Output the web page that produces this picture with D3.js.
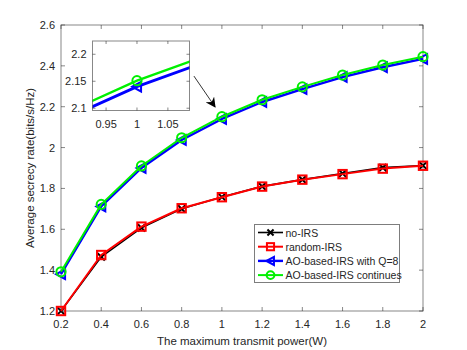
<!DOCTYPE html>
<html>
<head>
<meta charset="utf-8">
<script src="https://cdn.jsdelivr.net/npm/d3@7"></script>
<style>
  body { margin: 0; background: #fff; }
  svg { font-family: "Liberation Sans", Arial, sans-serif; }
</style>
</head>
<body>
<div id="chart"></div>
<script>
// data
const power = [0.2, 0.4, 0.6, 0.8, 1.0, 1.2, 1.4, 1.6, 1.8, 2.0];
const noIRS = [1.2, 1.465, 1.607, 1.70, 1.758, 1.810, 1.843, 1.873, 1.902, 1.912];
const randomIRS = [1.2, 1.474, 1.613, 1.703, 1.757, 1.809, 1.843, 1.870, 1.897, 1.911];
const aoQ8 = [1.38, 1.712, 1.900, 2.037, 2.140, 2.223, 2.286, 2.345, 2.393, 2.434];
const aoCont = [1.392, 1.722, 1.910, 2.048, 2.151, 2.234, 2.297, 2.355, 2.404, 2.445];

const xTicks = [0.2, 0.4, 0.6, 0.8, 1, 1.2, 1.4, 1.6, 1.8, 2];
const yTicks = [1.2, 1.4, 1.6, 1.8, 2, 2.2, 2.4, 2.6];
const insetXTicks = [0.95, 1, 1.05];
const insetYTicks = [2.1, 2.15, 2.2];

const legendNames = ["no-IRS", "random-IRS", "AO-based-IRS with Q=8", "AO-based-IRS continues"];
// arrow annotation in data units: [from, to]
const arrowPts = [[0.861, 2.35], [0.966, 2.199]];

const series = [
  { name: legendNames[0], values: noIRS, color: "#000000", marker: "x", lw: 1.6 },
  { name: legendNames[1], values: randomIRS, color: "#ff0000", marker: "square", lw: 2 },
  { name: legendNames[2], values: aoQ8, color: "#0000ff", marker: "tri", lw: 2.4 },
  { name: legendNames[3], values: aoCont, color: "#00f000", marker: "circle", lw: 2 },
];

const width = 467, height = 350;
const svg = d3.select("#chart").append("svg")
  .attr("width", width).attr("height", height);

const axisColor = "#262626";
const textColor = "#262626";

function drawMarker(g, type, color, x, y, s) {
  if (type === "circle") {
    g.append("circle").attr("cx", x).attr("cy", y).attr("r", s)
      .attr("fill", "none").attr("stroke", color).attr("stroke-width", 2);
  } else if (type === "square") {
    g.append("rect").attr("x", x - s).attr("y", y - s)
      .attr("width", 2 * s).attr("height", 2 * s)
      .attr("fill", "none").attr("stroke", color).attr("stroke-width", 2);
  } else if (type === "tri") {
    g.append("path")
      .attr("d", `M${x - s},${y} L${x + s * 0.85},${y - s} L${x + s * 0.85},${y + s} Z`)
      .attr("fill", "none").attr("stroke", color).attr("stroke-width", 2);
  } else if (type === "x") {
    g.append("path")
      .attr("d", `M${x - s},${y - s} L${x + s},${y + s} M${x - s},${y + s} L${x + s},${y - s}`)
      .attr("stroke", color).attr("stroke-width", 2);
  }
}

function markerSize(type) {
  return type === "circle" ? 4.6 : type === "square" ? 4.2 : type === "tri" ? 4.8 : 3.6;
}

// box with ticks on all sides, matlab style
function drawFrame(g, x, y, xt, yt, fmtX, fmtY, tickLen) {
  const [x0, x1] = x.range();
  const [y0, y1] = y.range();
  g.append("rect").attr("x", x0).attr("y", y1)
    .attr("width", x1 - x0).attr("height", y0 - y1)
    .attr("fill", "none").attr("stroke", axisColor).attr("stroke-opacity", 0.55)
    .attr("stroke-width", 1);
  xt.forEach((t) => {
    const px = x(t);
    g.append("line").attr("x1", px).attr("x2", px).attr("y1", y0).attr("y2", y0 - tickLen)
      .attr("stroke", axisColor).attr("stroke-opacity", 0.55);
    g.append("line").attr("x1", px).attr("x2", px).attr("y1", y1).attr("y2", y1 + tickLen)
      .attr("stroke", axisColor).attr("stroke-opacity", 0.55);
    g.append("text").attr("x", px).attr("y", y0 + 17)
      .attr("text-anchor", "middle").attr("fill", textColor)
      .style("font-size", "11px").text(fmtX(t));
  });
  yt.forEach((t) => {
    const py = y(t);
    g.append("line").attr("x1", x0).attr("x2", x0 + tickLen).attr("y1", py).attr("y2", py)
      .attr("stroke", axisColor).attr("stroke-opacity", 0.55);
    g.append("line").attr("x1", x1).attr("x2", x1 - tickLen).attr("y1", py).attr("y2", py)
      .attr("stroke", axisColor).attr("stroke-opacity", 0.55);
    g.append("text").attr("x", x0 - 6).attr("y", py + 4)
      .attr("text-anchor", "end").attr("fill", textColor)
      .style("font-size", "11px").text(fmtY(t));
  });
}

// main axes
const x = d3.scaleLinear().domain([0.2, 2]).range([61, 423]);
const y = d3.scaleLinear().domain([1.2, 2.6]).range([311, 25]);

const main = svg.append("g");
drawFrame(main, x, y, xTicks, yTicks, (d) => String(d), (d) => String(d), 4);

svg.append("text")
  .attr("x", (x.range()[0] + x.range()[1]) / 2).attr("y", 345)
  .attr("text-anchor", "middle").attr("fill", textColor)
  .style("font-size", "11.5px").text("The maximum transmit power(W)");

svg.append("text")
  .attr("transform", `translate(34,${(y.range()[0] + y.range()[1]) / 2}) rotate(-90)`)
  .attr("text-anchor", "middle").attr("fill", textColor)
  .style("font-size", "11.5px").text("Average secrecy rate(bits/s/Hz)");

const line = d3.line().x((d) => x(d[0])).y((d) => y(d[1]));

series.forEach((s) => {
  const pts = power.map((p, i) => [p, s.values[i]]);
  main.append("path").datum(pts).attr("d", line)
    .attr("fill", "none").attr("stroke", s.color).attr("stroke-width", s.lw)
    .attr("stroke-linejoin", "round");
  const mg = main.append("g");
  pts.forEach((d) => drawMarker(mg, s.marker, s.color, x(d[0]), y(d[1]), markerSize(s.marker)));
});

// legend
const lg = svg.append("g");
lg.append("rect").attr("x", 254.5).attr("y", 224.5).attr("width", 145).attr("height", 58)
  .attr("fill", "#fff").attr("stroke", axisColor).attr("stroke-opacity", 0.6);
series.forEach((s, i) => {
  const ly = 232.5 + i * 14.2;
  lg.append("line").attr("x1", 258).attr("x2", 283).attr("y1", ly).attr("y2", ly)
    .attr("stroke", s.color).attr("stroke-width", s.lw);
  drawMarker(lg, s.marker, s.color, 270.5, ly, markerSize(s.marker) * 0.85);
  lg.append("text").attr("x", 285.5).attr("y", ly + 4).attr("fill", textColor)
    .style("font-size", "10.5px").text(s.name);
});

// arrow
svg.append("defs").append("marker")
  .attr("id", "arrowhead").attr("viewBox", "0 0 10 10")
  .attr("refX", 9).attr("refY", 5)
  .attr("markerWidth", 10).attr("markerHeight", 10)
  .attr("markerUnits", "userSpaceOnUse")
  .attr("orient", "auto")
  .append("path").attr("d", "M0,0 L10,5 L0,10 L3,5 Z").attr("fill", "#000");

svg.append("line")
  .attr("x1", x(arrowPts[0][0])).attr("y1", y(arrowPts[0][1]))
  .attr("x2", x(arrowPts[1][0])).attr("y2", y(arrowPts[1][1]))
  .attr("stroke", "#000").attr("stroke-width", 0.8)
  .attr("marker-end", "url(#arrowhead)");

// inset zoom around P = 1
const ix = d3.scaleLinear().domain([0.928, 1.085]).range([92.5, 189.5]);
const iy = d3.scaleLinear().domain([2.0958, 2.2246]).range([110.5, 41]);

const inset = svg.append("g");
inset.append("rect").attr("x", 92.5).attr("y", 41).attr("width", 97).attr("height", 69.5)
  .attr("fill", "#fff");
svg.append("clipPath").attr("id", "insetClip").append("rect")
  .attr("x", 92.5).attr("y", 41).attr("width", 97).attr("height", 69.5);

const iline = d3.line().x((d) => ix(d[0])).y((d) => iy(d[1]));
const plotArea = inset.append("g").attr("clip-path", "url(#insetClip)");
series.slice(2).forEach((s) => {
  const pts = power.map((p, i) => [p, s.values[i]]);
  plotArea.append("path").datum(pts).attr("d", iline)
    .attr("fill", "none").attr("stroke", s.color).attr("stroke-width", s.lw + 0.4);
  const mg = plotArea.append("g");
  pts.forEach((d) => drawMarker(mg, s.marker, s.color, ix(d[0]), iy(d[1]), markerSize(s.marker)));
});
drawFrame(inset, ix, iy, insetXTicks, insetYTicks, (d) => String(d), (d) => String(d), 3);
</script>
</body>
</html>
